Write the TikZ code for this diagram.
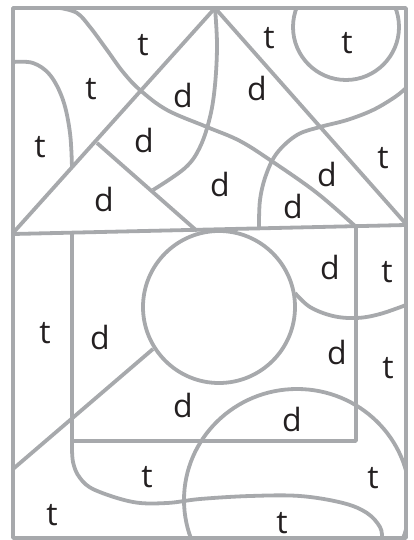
\documentclass[tikz,border=0pt]{standalone}
\usepackage{fontspec}
\setmainfont{Open Sans}
\definecolor{lineg}{RGB}{167,169,172}
\definecolor{ink}{RGB}{35,31,32}
\begin{document}
\begin{tikzpicture}[x=1pt,y=-1pt,
  ln/.style={draw=lineg,line width=3.8pt,line join=round},
  lbl/.style={text=ink,font=\fontsize{32}{32}\selectfont,inner sep=0pt}]
\useasboundingbox (0,0) rectangle (414,540);
\begin{scope}
\clip (13,8) rectangle (406,538);
% top-right circle
\draw[ln] (346,27) circle (53);
% bottom-right big circle
\draw[ln] (297,500) ellipse (113 and 111);
\end{scope}
% roof
\draw[ln] (13,233) -- (215,8) -- (406,224);
\draw[ln] (97,143) -- (197,231);
% base line
\draw[ln] (13,234) -- (406,225);
% house walls
\draw[ln] (72,233) -- (72,441) -- (356,441) -- (356,226);
% diagonal
\draw[ln] (153,349) -- (13,469);
% big circle
\draw[ln] (219,307) circle (76);
% curves
\draw[ln] plot[smooth,tension=0.6] coordinates {(60,8) (77,13) (90,27) (107,50) (123,72) (140,90) (167,110) (207,127) (240,141) (273,162) (317,193) (355,226)};
\draw[ln] plot[smooth,tension=0.6] coordinates {(215,8) (217,45) (215,85) (210,117) (200,147) (185,168) (153,190)};
\draw[ln] plot[smooth,tension=0.6] coordinates {(13,62) (33,63) (50,75) (63,100) (70,133) (72,168)};
\draw[ln] plot[smooth,tension=0.6] coordinates {(406,88) (395,97) (373,110) (347,120) (320,127) (297,135) (277,153) (266,175) (260,200) (259,228)};
\draw[ln] plot[smooth,tension=0.6] coordinates {(295,293) (310,307) (333,316) (357,318) (380,314) (406,305)};
\draw[ln] plot[smooth,tension=0.6] coordinates {(72,441) (73,462) (80,478) (95,490) (133,502) (167,503) (200,499) (250,496) (300,496) (343,503) (367,513) (380,527) (382,538)};
% frame
\draw[ln] (13,8) rectangle (406,538);
% labels
\node[lbl] (t1) at (143,45) {t};
\node[lbl] (t2) at (91,89) {t};
\node[lbl] (t3) at (40,147) {t};
\node[lbl] (d1) at (183,96) {d};
\node[lbl] (d2) at (144,141) {d};
\node[lbl] (d3) at (104,199) {d};
\node[lbl] (t4) at (269,38) {t};
\node[lbl] (t5) at (347,43) {t};
\node[lbl] (d4) at (257,89) {d};
\node[lbl] (d5) at (220,184) {d};
\node[lbl] (d6) at (327,174) {d};
\node[lbl] (d7) at (293,206) {d};
\node[lbl] (t6) at (383,158) {t};
\node[lbl] (d8) at (330,267) {d};
\node[lbl] (t7) at (387,272) {t};
\node[lbl] (t8) at (45,333) {t};
\node[lbl] (d9) at (100,337) {d};
\node[lbl] (d10) at (337,352) {d};
\node[lbl] (t9) at (388,368) {t};
\node[lbl] (d11) at (183,405) {d};
\node[lbl] (d12) at (292,419) {d};
\node[lbl] (t10) at (147,477) {t};
\node[lbl] (t11) at (373,478) {t};
\node[lbl] (t12) at (52,515) {t};
\node[lbl] (t13) at (282,523) {t};
\end{tikzpicture}
\end{document}
